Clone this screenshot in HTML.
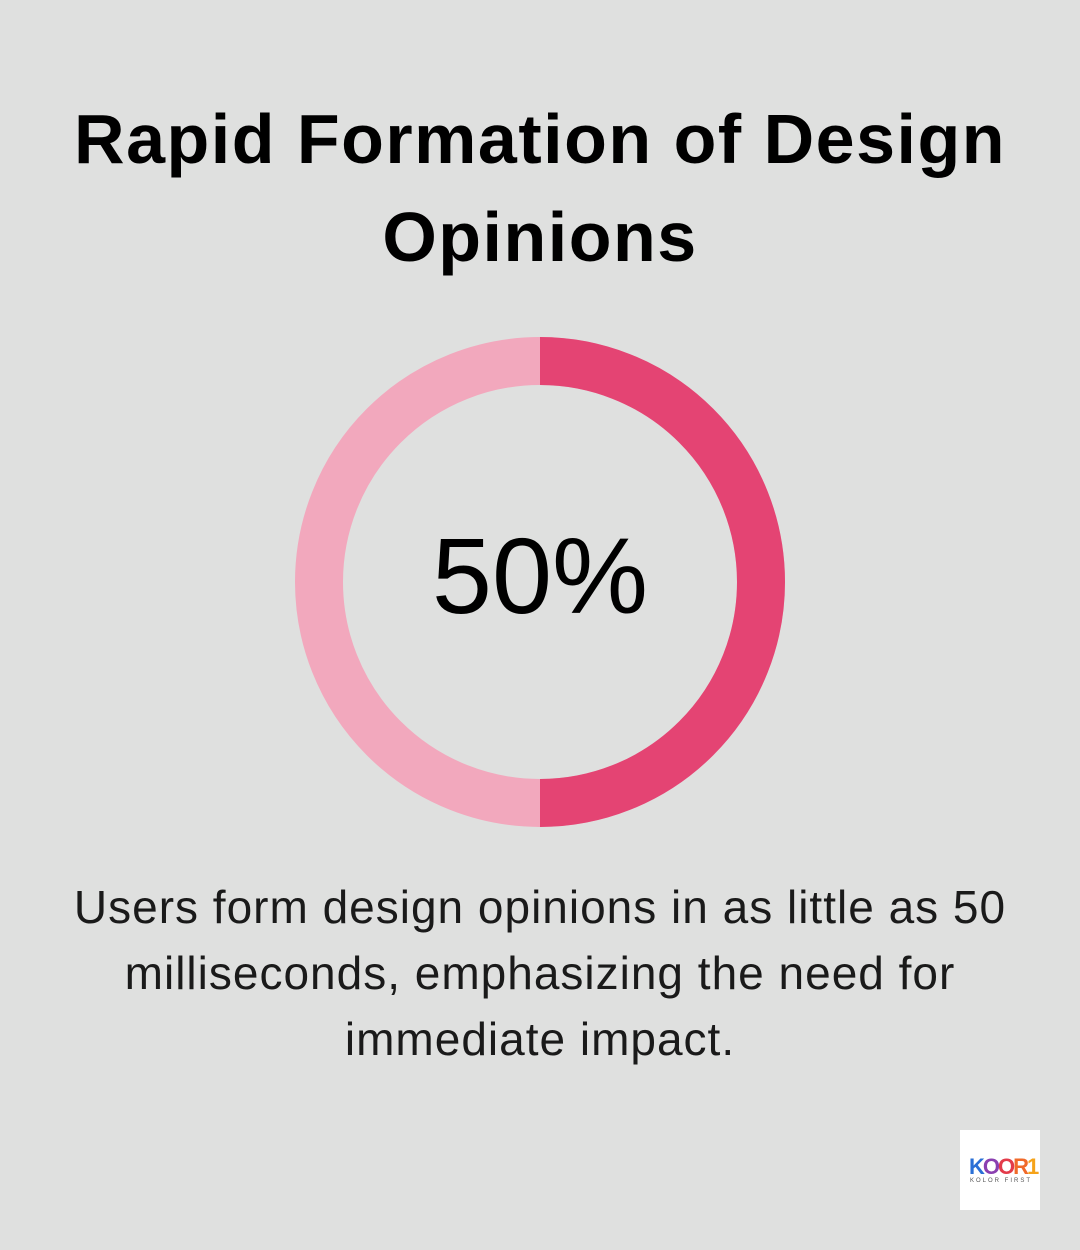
<!DOCTYPE html>
<html><head><style>
html,body{margin:0;padding:0}
body{width:1080px;height:1250px;background:#dfe0df;position:relative;overflow:hidden;font-family:"Liberation Sans",sans-serif}
.t{position:absolute;left:0;width:1080px;text-align:center;font-weight:bold;font-size:70px;letter-spacing:1.5px;color:#000;line-height:98px;top:90px}
.b{position:absolute;left:0;width:1080px;text-align:center;font-size:46px;letter-spacing:1px;color:#1a1a1a;line-height:66px;top:874px}
.logo{position:absolute;left:960px;top:1130px;width:80px;height:80px;background:#fff}
</style></head><body>
<div class="t">Rapid Formation of Design<br>Opinions</div>
<svg style="position:absolute;left:0;top:0" width="1080" height="1250">
<circle cx="540" cy="582" r="221" fill="none" stroke="#f2a8bd" stroke-width="48"/>
<path d="M540 361 A221 221 0 0 1 540 803" fill="none" stroke="#e44473" stroke-width="48"/>
<text x="540" y="613" text-anchor="middle" font-family="Liberation Sans" font-size="108" fill="#000">50%</text>
</svg>
<div class="b">Users form design opinions in as little as 50<br>milliseconds, emphasizing the need for<br>immediate impact.</div>
<div class="logo">
<div style="position:absolute;left:9px;top:24px;font-weight:bold;font-size:22px;letter-spacing:-2px;color:#e04a6a"><span style="color:#2a6fd6">K</span><span style="color:#8a3fb0">O</span><span style="color:#e33b4a">O</span><span style="color:#f06a2a">R</span><span style="color:#f5a31a">1</span></div>
<div style="position:absolute;left:10px;top:48px;font-size:6px;letter-spacing:2px;color:#555">KOLOR FIRST</div>
</div>
</body></html>
